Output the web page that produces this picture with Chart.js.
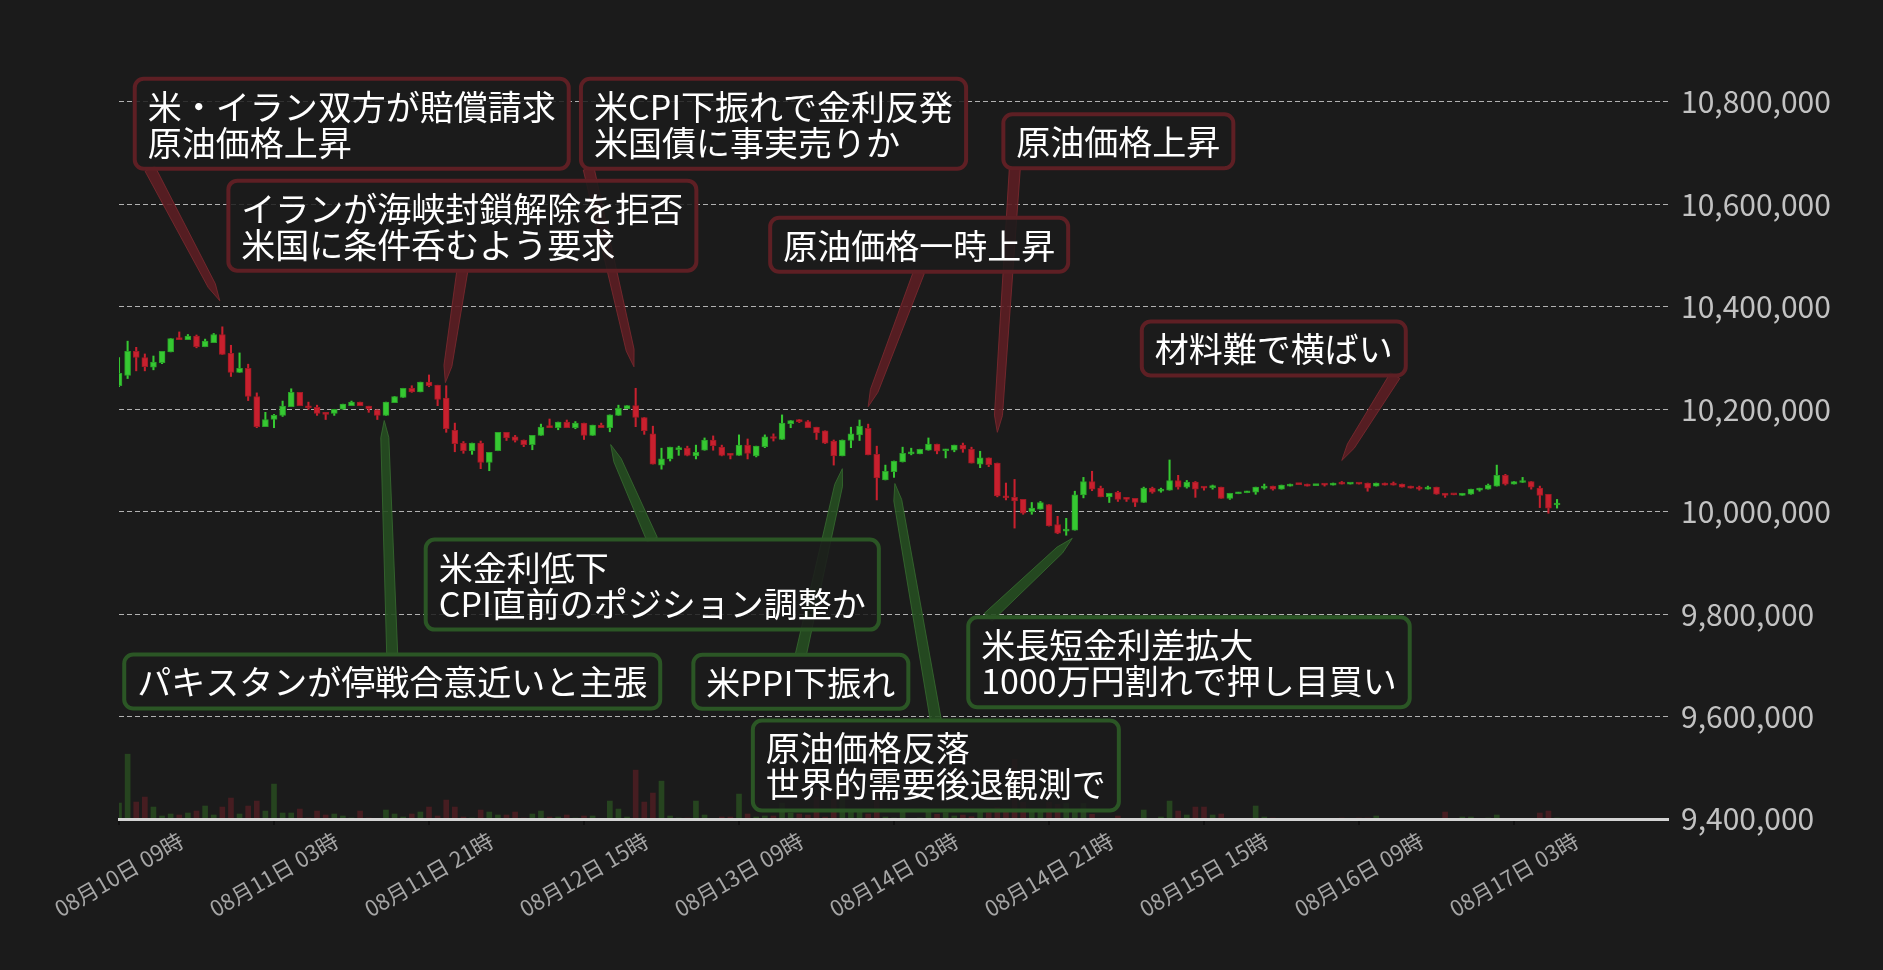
<!DOCTYPE html>
<html>
<head>
<meta charset="utf-8">
<script src="https://cdn.jsdelivr.net/npm/chart.js@4.4.1/dist/chart.umd.min.js"></script>
<style>
  html, body { margin: 0; padding: 0; background: #1b1b1b; }
  #wrap { width: 1883px; height: 970px; position: relative; }
</style>
</head>
<body>
<div id="wrap"><canvas id="chart"></canvas></div>
<script>
// 1時間足 (価格は千円単位)
const UNIT = 1000;
const opens = [
  10246, 10266, 10313, 10301, 10282, 10291, 10312, 10339, 10336, 10343, 10322, 10330, 10346, 10309, 10272, 10280, 10225, 10166, 10180, 10188,
  10205, 10233, 10206, 10204, 10191, 10192, 10200, 10207, 10214, 10206, 10199, 10188, 10213, 10223, 10241, 10234, 10253, 10247, 10222, 10159,
  10134, 10119, 10134, 10096, 10119, 10155, 10146, 10140, 10131, 10149, 10168, 10164, 10175, 10164, 10173, 10149, 10169, 10164, 10188, 10201,
  10207, 10184, 10152, 10091, 10103, 10121, 10124, 10109, 10120, 10140, 10126, 10114, 10110, 10130, 10109, 10127, 10144, 10141, 10172, 10180,
  10176, 10165, 10158, 10138, 10109, 10139, 10150, 10163, 10112, 10062, 10078, 10097, 10113, 10113, 10120, 10132, 10119, 10120, 10130, 10122,
  10093, 10105, 10095, 10031, 10028, 10024, 10000, 10005, 10014, 9975, 9962, 9964, 10033, 10059, 10046, 10029, 10038, 10026, 10026, 10018,
  10046, 10040, 10042, 10061, 10048, 10058, 10048, 10047, 10048, 10026, 10035, 10037, 10038, 10046, 10050, 10044, 10050, 10054, 10054, 10051,
  10054, 10052, 10056, 10054, 10055, 10056, 10050, 10056, 10054, 10054, 10050, 10048, 10044, 10048, 10036, 10034, 10032, 10034, 10042, 10044,
  10050, 10071, 10054, 10057, 10059, 10046, 10034, 10013
];
const highs = [
  10301, 10333, 10321, 10308, 10304, 10313, 10338, 10351, 10346, 10345, 10337, 10348, 10361, 10325, 10310, 10288, 10232, 10194, 10190, 10216,
  10240, 10233, 10214, 10208, 10191, 10200, 10210, 10216, 10214, 10206, 10199, 10214, 10225, 10241, 10246, 10253, 10267, 10247, 10246, 10173,
  10137, 10134, 10138, 10116, 10155, 10155, 10149, 10140, 10149, 10171, 10181, 10175, 10179, 10176, 10173, 10169, 10173, 10189, 10208, 10207,
  10241, 10184, 10167, 10124, 10126, 10128, 10128, 10130, 10144, 10148, 10130, 10114, 10150, 10142, 10128, 10150, 10152, 10189, 10178, 10180,
  10178, 10165, 10158, 10140, 10140, 10165, 10179, 10171, 10128, 10091, 10099, 10126, 10124, 10122, 10144, 10132, 10122, 10130, 10134, 10126,
  10118, 10105, 10095, 10056, 10063, 10024, 10018, 10020, 10014, 9991, 9987, 10040, 10067, 10079, 10050, 10036, 10040, 10028, 10026, 10048,
  10048, 10046, 10101, 10071, 10061, 10059, 10048, 10052, 10048, 10036, 10038, 10040, 10048, 10054, 10050, 10052, 10054, 10054, 10054, 10052,
  10054, 10056, 10059, 10055, 10055, 10056, 10056, 10056, 10058, 10054, 10050, 10050, 10050, 10048, 10036, 10034, 10036, 10044, 10046, 10054,
  10091, 10073, 10059, 10067, 10059, 10050, 10034, 10024
];
const lows = [
  10244, 10260, 10275, 10275, 10277, 10289, 10312, 10336, 10336, 10320, 10322, 10330, 10307, 10264, 10272, 10217, 10164, 10166, 10164, 10186,
  10205, 10207, 10200, 10188, 10180, 10188, 10200, 10207, 10207, 10194, 10180, 10188, 10213, 10223, 10233, 10234, 10244, 10207, 10155, 10117,
  10114, 10112, 10084, 10080, 10119, 10139, 10136, 10127, 10121, 10149, 10164, 10160, 10164, 10162, 10141, 10149, 10164, 10156, 10188, 10201,
  10166, 10151, 10093, 10083, 10099, 10110, 10109, 10103, 10120, 10120, 10109, 10103, 10110, 10103, 10107, 10125, 10138, 10141, 10164, 10174,
  10164, 10141, 10133, 10091, 10109, 10125, 10139, 10111, 10023, 10062, 10067, 10097, 10111, 10113, 10120, 10113, 10105, 10117, 10116, 10095,
  10086, 10088, 10029, 10023, 9968, 9995, 9995, 10005, 9972, 9957, 9954, 9964, 10027, 10041, 10029, 10018, 10020, 10020, 10010, 10018,
  10036, 10038, 10042, 10044, 10046, 10028, 10042, 10044, 10026, 10024, 10035, 10037, 10034, 10044, 10042, 10044, 10050, 10053, 10050, 10051,
  10050, 10052, 10054, 10054, 10054, 10040, 10050, 10052, 10052, 10048, 10046, 10042, 10044, 10034, 10028, 10033, 10032, 10034, 10040, 10044,
  10050, 10052, 10054, 10057, 10044, 10008, 9997, 10007
];
const closes = [
  10270, 10313, 10301, 10283, 10292, 10313, 10338, 10336, 10343, 10322, 10333, 10346, 10307, 10272, 10280, 10225, 10166, 10180, 10188, 10206,
  10233, 10207, 10203, 10192, 10190, 10200, 10210, 10214, 10207, 10201, 10188, 10214, 10225, 10241, 10234, 10253, 10246, 10219, 10162, 10133,
  10119, 10134, 10096, 10116, 10155, 10144, 10139, 10131, 10149, 10165, 10164, 10175, 10164, 10173, 10149, 10169, 10164, 10189, 10202, 10207,
  10184, 10158, 10093, 10103, 10126, 10125, 10110, 10116, 10140, 10129, 10110, 10110, 10130, 10114, 10128, 10146, 10143, 10173, 10178, 10176,
  10164, 10154, 10134, 10109, 10140, 10152, 10167, 10111, 10066, 10079, 10099, 10114, 10114, 10122, 10132, 10118, 10122, 10130, 10122, 10095,
  10105, 10092, 10031, 10027, 10021, 9997, 10007, 10018, 9972, 9958, 9965, 10033, 10059, 10044, 10029, 10036, 10024, 10024, 10018, 10046,
  10038, 10044, 10061, 10048, 10058, 10044, 10046, 10048, 10026, 10036, 10038, 10040, 10048, 10050, 10044, 10052, 10054, 10053, 10050, 10052,
  10052, 10056, 10054, 10055, 10054, 10046, 10056, 10052, 10052, 10048, 10046, 10044, 10048, 10034, 10032, 10033, 10036, 10044, 10046, 10052,
  10071, 10054, 10059, 10059, 10048, 10032, 10007, 10014
];
// 出来高 (相対値)
const volumes = [
  48, 195, 51, 66, 36, 9, 15, 12, 18, 24, 39, 12, 36, 63, 15, 39, 54, 24, 105, 18,
  18, 30, 3, 24, 12, 15, 9, 3, 24, 3, 1, 27, 15, 6, 15, 21, 36, 9, 57, 36,
  6, 3, 27, 21, 12, 12, 21, 3, 15, 24, 6, 6, 12, 3, 9, 9, 0, 54, 30, 6,
  147, 51, 78, 114, 9, 3, 3, 54, 12, 1, 6, 6, 75, 15, 6, 9, 9, 48, 18, 15,
  12, 66, 6, 60, 72, 21, 21, 15, 84, 6, 3, 24, 1, 3, 24, 14, 19, 9, 12, 7,
  29, 19, 36, 29, 179, 51, 27, 24, 51, 44, 47, 24, 47, 14, 2, 1, 9, 1, 1, 27,
  1, 6, 54, 24, 12, 36, 36, 12, 15, 1, 1, 1, 39, 6, 3, 1, 1, 1, 1, 1,
  1, 1, 3, 1, 3, 3, 9, 1, 1, 1, 1, 1, 1, 1, 21, 1, 6, 6, 1, 3,
  12, 1, 1, 1, 1, 18, 24, 3
];

const xTickHours = [0, 18, 36, 54, 72, 90, 108, 126, 144, 162];
const xTickLabels = [
  '08月10日 09時', '08月11日 03時', '08月11日 21時', '08月12日 15時', '08月13日 09時',
  '08月14日 03時', '08月14日 21時', '08月15日 15時', '08月16日 09時', '08月17日 03時'
];
const yTicks = [9400000, 9600000, 9800000, 10000000, 10200000, 10400000, 10600000, 10800000];

// 注釈 (矢印の先: 時間インデックスと価格)
const noteTexts = [
  '米・イラン双方が賠償請求\n原油価格上昇',
  'イランが海峡封鎖解除を拒否\n米国に条件呑むよう要求',
  '米CPI下振れで金利反発\n米国債に事実売りか',
  '原油価格一時上昇',
  '原油価格上昇',
  '材料難で横ばい',
  '米金利低下\nCPI直前のポジション調整か',
  'パキスタンが停戦合意近いと主張',
  '米PPI下振れ',
  '原油価格反落\n世界的需要後退観測で',
  '米長短金利差拡大\n1000万円割れで押し目買い'
];
const noteHours = [11.7, 37.9, 59.8, 87.0, 102.0, 142.0, 57.1, 30.8, 84.0, 90.1, 110.7];
const notePrices = [10412000, 10252000, 10283000, 10205000, 10155000, 10100000, 10131000, 10178000, 10084000, 10055000, 9948000];
const noteTones = ['up', 'up', 'up', 'up', 'up', 'up', 'down', 'down', 'down', 'down', 'down'];

// 注釈ボックスの配置: [矢印先からのdx, dy, 矢印根元の位置(幅比), 辺]
const noteLayout = [
  [-85, -222, 0.035, 'bottom'],
  [-217, -202, 0.5, 'bottom'],
  [-53, -288, 0.02, 'bottom'],
  [-98, -189, 0.5, 'bottom'],
  [6, -318, 0.05, 'bottom'],
  [-200, -139, 0.96, 'bottom'],
  [-185, 95, 0.5, 'top'],
  [-260, 234, 0.5, 'top'],
  [-149, 186, 0.5, 'top'],
  [-142, 237, 0.5, 'top'],
  [-104, 79, 0.045, 'top']
];

const FONT = '"Noto Sans CJK JP", "Noto Sans", sans-serif';
const BG = '#1b1b1b';
const GREEN = '#36c832';
const GREEN_EDGE = '#2a9f28';
const RED = '#c8202e';
const RED_EDGE = '#a01a25';
const VOL_GREEN = '#26441f';
const VOL_RED = '#461d21';

const TONES = {
  up: { edge: '#5e1f24', arrow: 'rgba(92, 30, 35, 0.9)', arrowEdge: 'rgba(120, 40, 46, 0.9)' },
  down: { edge: '#2b5625', arrow: 'rgba(38, 78, 33, 0.9)', arrowEdge: 'rgba(52, 102, 45, 0.9)' }
};

const isUp = i => closes[i] >= opens[i];

// 背景
const backgroundPlugin = {
  id: 'background',
  beforeDraw(chart) {
    const { ctx, width, height } = chart;
    ctx.save();
    ctx.fillStyle = BG;
    ctx.fillRect(0, 0, width, height);
    ctx.restore();
  }
};

// X軸: 太い線 + 回転ラベル (中央揃え)
const xAxisPlugin = {
  id: 'xAxisDraw',
  afterDatasetsDraw(chart) {
    const { ctx, chartArea: a, scales: { x } } = chart;
    ctx.save();
    ctx.strokeStyle = '#d4d4d4';
    ctx.lineWidth = 3;
    ctx.beginPath();
    ctx.moveTo(a.left - 1, a.bottom + 0.5);
    ctx.lineTo(a.right, a.bottom + 0.5);
    ctx.stroke();

    const size = 22;
    const ang = Math.PI / 6;
    ctx.font = `${size}px ${FONT}`;
    ctx.fillStyle = '#a6a6a6';
    ctx.textAlign = 'center';
    ctx.textBaseline = 'middle';
    xTickHours.forEach((h, k) => {
      const px = x.getPixelForValue(h);
      ctx.strokeStyle = '#050505';
      ctx.lineWidth = 1;
      ctx.beginPath();
      ctx.moveTo(px, a.bottom + 2);
      ctx.lineTo(px, a.bottom + 6);
      ctx.stroke();

      const label = xTickLabels[k];
      const w = ctx.measureText(label).width;
      const bh = w * Math.sin(ang) + size * Math.cos(ang);
      ctx.save();
      ctx.translate(px, a.bottom + 10 + bh / 2);
      ctx.rotate(-ang);
      ctx.fillText(label, 0, 0);
      ctx.restore();
    });
    ctx.restore();
  }
};

function drawWedge(ctx, tx, ty, hx, hy, tone) {
  const dx = hx - tx, dy = hy - ty;
  const len = Math.hypot(dx, dy);
  const ux = dx / len, uy = dy / len;
  const nx = -uy, ny = ux;
  const w0 = 5.5, w1 = 4, head = 17;
  const bx = hx - ux * head, by = hy - uy * head;
  ctx.beginPath();
  ctx.moveTo(tx + nx * w0, ty + ny * w0);
  ctx.lineTo(bx + nx * w1, by + ny * w1);
  ctx.lineTo(hx, hy);
  ctx.lineTo(bx - nx * w1, by - ny * w1);
  ctx.lineTo(tx - nx * w0, ty - ny * w0);
  ctx.closePath();
  ctx.fillStyle = TONES[tone].arrow;
  ctx.fill();
  ctx.strokeStyle = TONES[tone].arrowEdge;
  ctx.lineWidth = 1;
  ctx.stroke();
}

function roundRect(ctx, x, y, w, h, r) {
  ctx.beginPath();
  ctx.moveTo(x + r, y);
  ctx.lineTo(x + w - r, y);
  ctx.arcTo(x + w, y, x + w, y + r, r);
  ctx.lineTo(x + w, y + h - r);
  ctx.arcTo(x + w, y + h, x + w - r, y + h, r);
  ctx.lineTo(x + r, y + h);
  ctx.arcTo(x, y + h, x, y + h - r, r);
  ctx.lineTo(x, y + r);
  ctx.arcTo(x, y, x + r, y, r);
  ctx.closePath();
}

// 注釈: 矢印を先に全部描いてから、ボックスとテキスト
const notesPlugin = {
  id: 'notes',
  afterDraw(chart) {
    const { ctx, scales: { x, y } } = chart;
    const size = 34, lineH = 36, padX = 13, padY = 9;
    ctx.save();
    ctx.font = `${size}px ${FONT}`;
    const items = noteTexts.map((text, k) => {
      const lines = text.split('\n');
      const tipX = x.getPixelForValue(noteHours[k]);
      const tipY = y.getPixelForValue(notePrices[k]);
      const [dx, dy, frac, side] = noteLayout[k];
      const w = Math.max(...lines.map(l => ctx.measureText(l).width)) + padX * 2;
      const h = lines.length * lineH + padY * 2;
      const bx = tipX + dx, by = tipY + dy;
      return {
        lines, tipX, tipY, bx, by, w, h,
        tailX: bx + w * frac,
        tailY: side === 'top' ? by : by + h,
        tone: noteTones[k]
      };
    });

    items.forEach(n => drawWedge(ctx, n.tailX, n.tailY, n.tipX, n.tipY, n.tone));

    items.forEach(n => {
      roundRect(ctx, n.bx, n.by, n.w, n.h, 9);
      ctx.fillStyle = 'rgba(27, 27, 27, 0.85)';
      ctx.fill();
      ctx.strokeStyle = TONES[n.tone].edge;
      ctx.lineWidth = 4;
      ctx.stroke();

      ctx.fillStyle = '#ffffff';
      ctx.textAlign = 'left';
      ctx.textBaseline = 'middle';
      n.lines.forEach((l, j) => {
        ctx.fillText(l, n.bx + padX, n.by + padY + lineH * (j + 0.5) + 1);
      });
    });
    ctx.restore();
  }
};

const idx = opens.map((_, i) => i);

const bodyData = idx.map(i => ({ x: i, y: [opens[i] * UNIT, closes[i] * UNIT] }));
const wickData = idx.map(i => ({ x: i, y: [lows[i] * UNIT, highs[i] * UNIT] }));
const volData = idx.map(i => ({ x: i, y: volumes[i] }));

new Chart(document.getElementById('chart'), {
  type: 'bar',
  data: {
    datasets: [
      {
        label: 'body',
        data: bodyData,
        yAxisID: 'y',
        order: 1,
        grouped: false,
        barThickness: 6,
        minBarLength: 2,
        borderWidth: 1,
        borderSkipped: false,
        backgroundColor: c => isUp(c.dataIndex) ? GREEN : RED,
        borderColor: c => isUp(c.dataIndex) ? GREEN_EDGE : RED_EDGE
      },
      {
        label: 'wick',
        data: wickData,
        yAxisID: 'y',
        order: 2,
        grouped: false,
        barThickness: 1.4,
        borderWidth: 0,
        backgroundColor: c => isUp(c.dataIndex) ? GREEN : RED
      },
      {
        label: 'volume',
        data: volData,
        yAxisID: 'yv',
        order: 3,
        grouped: false,
        barThickness: 5,
        borderWidth: 0,
        backgroundColor: c => isUp(c.dataIndex) ? VOL_GREEN : VOL_RED
      }
    ]
  },
  options: {
    responsive: true,
    maintainAspectRatio: false,
    animation: false,
    events: [],
    layout: { padding: { left: 119, top: 61, right: 0, bottom: 151 } },
    plugins: {
      legend: { display: false },
      tooltip: { enabled: false }
    },
    scales: {
      x: {
        type: 'linear',
        min: 0,
        max: 180,
        offset: false,
        display: false
      },
      y: {
        type: 'linear',
        position: 'right',
        min: 9400000,
        max: 10880000,
        afterBuildTicks: s => { s.ticks = yTicks.map(v => ({ value: v })); },
        afterFit: s => { s.width = 214; },
        grid: { color: 'rgba(215, 215, 215, 0.8)', lineWidth: 1, drawTicks: false },
        border: { display: false, dash: [5, 3] },
        ticks: {
          padding: 12,
          color: '#c2c2c2',
          font: { family: FONT, size: 30 },
          callback: v => Number(v).toLocaleString('en-US')
        }
      },
      yv: {
        type: 'linear',
        display: false,
        min: 0,
        max: 2280
      }
    }
  },
  plugins: [backgroundPlugin, xAxisPlugin, notesPlugin]
});
</script>
</body>
</html>
